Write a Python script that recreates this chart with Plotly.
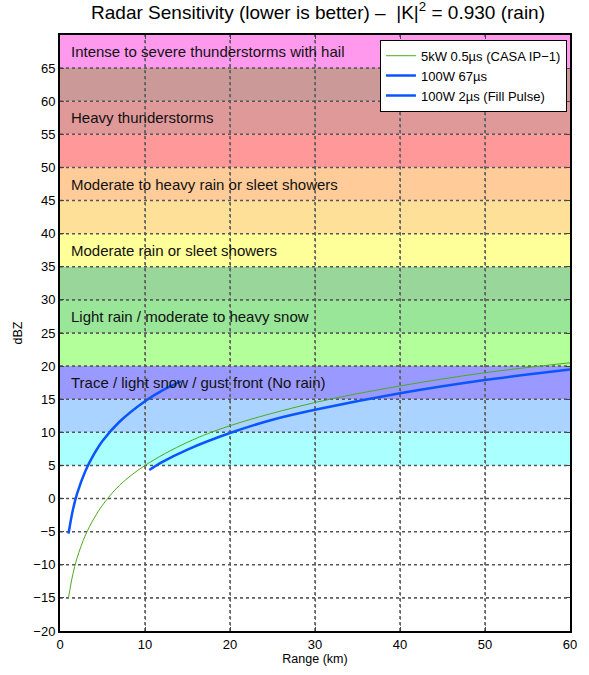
import plotly.graph_objects as go

# Reflectivity bands (dBZ) with fill colours and descriptive labels
band_lo = [5, 10, 15, 20, 25, 30, 35, 40, 45, 50, 55, 60, 65]
band_hi = [10, 15, 20, 25, 30, 35, 40, 45, 50, 55, 60, 65, 70]
band_colors = ["#AAFFFF", "#AAD4FF", "#9999FF", "#B3FF99", "#99E699", "#99D699",
               "#FFFF99", "#FFE099", "#FFCC99", "#FF9999", "#E09999", "#CC9999", "#FF99EE"]

label_y = [67.5, 57.5, 47.5, 37.5, 27.5, 17.5]
label_text = ["Intense to severe thunderstorms with hail",
              "Heavy thunderstorms",
              "Moderate to heavy rain or sleet showers",
              "Moderate rain or sleet showers",
              "Light rain / moderate to heavy snow",
              "Trace / light snow / gust front (No rain)"]

# Minimum detectable reflectivity vs range
r_casa = [1, 1.5, 2, 3, 4, 5, 7, 10, 15, 20, 30, 40, 50, 60]
z_casa = [-15, -11.5, -9, -5.5, -3, -1, 2, 5, 8.5, 11, 14.5, 17, 19, 20.5]

r_long = [1, 1.5, 2, 3, 4, 5, 7, 10, 12, 14.2]
z_long = [-5.3, -1.8, 0.7, 4.2, 6.7, 8.7, 11.6, 14.7, 16.3, 17.7]

r_fill = [10.5, 12, 15, 20, 25, 30, 40, 50, 60]
z_fill = [4.3, 5.5, 7.4, 9.9, 11.9, 13.4, 15.9, 17.9, 19.5]

x_ticks = [0, 10, 20, 30, 40, 50, 60]
y_ticks = list(range(-20, 70, 5))

FONT = "Liberation Sans, Arial, Helvetica"
X_RANGE = [0, 60]
Y_RANGE = [-20, 70]

fig = go.Figure()

# Dotted grid as line traces so it sits above the coloured band shapes
gx, gy = [], []
for xv in x_ticks[1:-1]:
    gx += [xv, xv, None]
    gy += [Y_RANGE[0], Y_RANGE[1], None]
for yv in y_ticks[1:]:
    gx += [X_RANGE[0], X_RANGE[1], None]
    gy += [yv, yv, None]
fig.add_trace(go.Scatter(x=gx, y=gy, mode="lines", showlegend=False, hoverinfo="skip",
                         line=dict(color="#555555", width=1.5, dash="dot")))

fig.add_trace(go.Scatter(x=r_casa, y=z_casa, mode="lines", line=dict(color="#4DAA1E", width=1, shape="spline"),
                         name="5kW 0.5µs (CASA IP−1)"))
fig.add_trace(go.Scatter(x=r_long, y=z_long, mode="lines", line=dict(color="#0A55FF", width=2.5, shape="spline"),
                         name="100W 67µs"))
fig.add_trace(go.Scatter(x=r_fill, y=z_fill, mode="lines", line=dict(color="#0A55FF", width=2.5, shape="spline"),
                         name="100W 2µs (Fill Pulse)"))

shapes = []
for lo, hi, c in zip(band_lo, band_hi, band_colors):
    shapes.append(dict(type="rect", xref="x", yref="y", x0=X_RANGE[0], x1=X_RANGE[1], y0=lo, y1=hi,
                       fillcolor=c, line=dict(width=0), layer="below"))

annotations = []
for y, t in zip(label_y, label_text):
    annotations.append(dict(x=1.0, y=y, xref="x", yref="y", text=t, showarrow=False,
                            xanchor="left", yanchor="middle",
                            font=dict(size=15, color="#111111", family=FONT)))

fig.update_layout(
    width=589, height=675,
    margin=dict(l=60, r=16, t=35, b=39),
    paper_bgcolor="white", plot_bgcolor="white",
    font=dict(family=FONT, size=12, color="black"),
    title=dict(text="Radar Sensitivity (lower is better) –  |K|<sup>2</sup> = 0.930 (rain)",
               x=0.54, xanchor="center", y=0.992, yanchor="top",
               font=dict(size=19, color="black")),
    shapes=shapes,
    annotations=annotations,
    showlegend=True,
    legend=dict(x=0.994, y=0.992, xanchor="right", yanchor="top",
                bgcolor="white", bordercolor="black", borderwidth=1,
                font=dict(size=13), tracegroupgap=0, itemwidth=30),
    xaxis=dict(range=X_RANGE, tickvals=x_ticks, ticks="inside", ticklen=4,
               showline=True, linecolor="black", linewidth=2, mirror="ticks",
               showgrid=True, gridcolor="#888888", griddash="dot", gridwidth=1,
               zeroline=False,
               title=dict(text="Range (km)", standoff=3, font=dict(size=12.5)),
               tickfont=dict(size=13)),
    yaxis=dict(range=Y_RANGE, tickvals=y_ticks, ticks="inside", ticklen=4,
               showline=True, linecolor="black", linewidth=2, mirror="ticks",
               showgrid=True, gridcolor="#888888", griddash="dot", gridwidth=1,
               zeroline=False,
               title=dict(text="dBZ", standoff=8, font=dict(size=12.5)),
               tickfont=dict(size=13)),
)

fig.write_html("out.html")
